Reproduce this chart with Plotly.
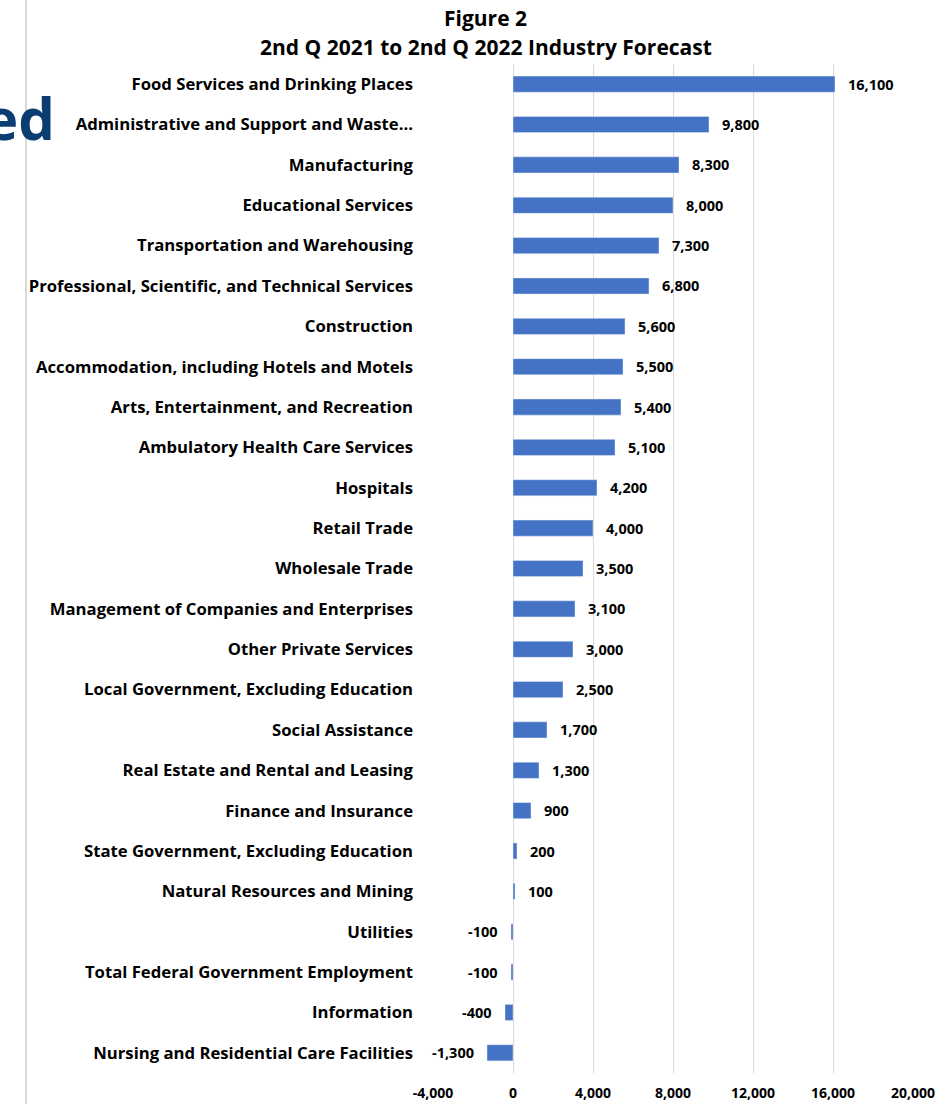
import plotly.graph_objects as go

industries = [
    "Food Services and Drinking Places",
    "Administrative and Support and Waste…",
    "Manufacturing",
    "Educational Services",
    "Transportation and Warehousing",
    "Professional, Scientific, and Technical Services",
    "Construction",
    "Accommodation, including Hotels and Motels",
    "Arts, Entertainment, and Recreation",
    "Ambulatory Health Care Services",
    "Hospitals",
    "Retail Trade",
    "Wholesale Trade",
    "Management of Companies and Enterprises",
    "Other Private Services",
    "Local Government, Excluding Education",
    "Social Assistance",
    "Real Estate and Rental and Leasing",
    "Finance and Insurance",
    "State Government, Excluding Education",
    "Natural Resources and Mining",
    "Utilities",
    "Total Federal Government Employment",
    "Information",
    "Nursing and Residential Care Facilities",
]
change = [16100, 9800, 8300, 8000, 7300, 6800, 5600, 5500, 5400, 5100,
          4200, 4000, 3500, 3100, 3000, 2500, 1700, 1300, 900, 200,
          100, -100, -100, -400, -1300]
x_ticks = [-4000, 0, 4000, 8000, 12000, 16000, 20000]

font_name = "Open Sans"
left, plot_w = 433, 480

fig = go.Figure()
fig.add_trace(go.Bar(
    y=industries, x=change, orientation="h",
    marker_color="#4472C4", width=0.4,
))

# value labels next to bar ends
notes = []
for name, v in zip(industries, change):
    notes.append(dict(
        x=v, y=name, xref="x", yref="y", text=f"<b>{v:,}</b>",
        showarrow=False, xanchor="left" if v >= 0 else "right",
        xshift=11 if v >= 0 else -11,
        font=dict(family=font_name, size=14.5, color="#000000"),
    ))

# titles and the cut-off page heading behind the chart
notes.append(dict(text="<b>Figure 2</b>", xref="paper", yref="paper",
                  x=0.11, y=1.0456, xanchor="center", yanchor="middle",
                  showarrow=False,
                  font=dict(family=font_name, size=21, color="#000000")))
notes.append(dict(text="<b>2nd Q 2021 to 2nd Q 2022 Industry Forecast</b>",
                  xref="paper", yref="paper", x=0.11, y=1.0168,
                  xanchor="center", yanchor="middle", showarrow=False,
                  font=dict(family=font_name, size=21, color="#000000")))
notes.append(dict(text="<b>ed</b>", xref="paper", yref="paper",
                  x=(57 - left) / plot_w, y=0.9465, xanchor="right",
                  yanchor="middle", showarrow=False,
                  font=dict(family=font_name, size=58, color="#0b3d73")))

fig.update_layout(
    width=937, height=1104,
    margin=dict(l=left, r=24, t=64, b=31, autoexpand=False),
    plot_bgcolor="white", paper_bgcolor="white",
    showlegend=False,
    font=dict(family=font_name, color="#000000"),
    annotations=notes,
    shapes=[dict(type="line", xref="paper", yref="paper",
                 x0=(26 - left) / plot_w, x1=(26 - left) / plot_w,
                 y0=-0.04, y1=1.07,
                 line=dict(color="#d9d9d9", width=2))],
)

fig.update_xaxes(
    range=[-4000, 20000], tickvals=x_ticks,
    ticktext=[f"{v:,}" for v in x_ticks],
    showgrid=True, gridcolor="#d9d9d9", gridwidth=1,
    zeroline=True, zerolinecolor="#d9d9d9", zerolinewidth=1,
    showline=False, ticks="", automargin=False,
    ticklabelstandoff=10,
    tickfont=dict(family=font_name, size=14, weight="bold"),
)
fig.update_yaxes(
    autorange="reversed", showgrid=False, showline=False, ticks="",
    ticklabelstandoff=19, automargin=False,
    tickfont=dict(family=font_name, size=16.7, weight="bold"),
)

# drop the default 8px page margin so the figure fills the window
fig.write_html("out.html",
               config={"displayModeBar": False},
               post_script="document.body.style.margin='0';"
                           "document.body.style.overflow='hidden';")
